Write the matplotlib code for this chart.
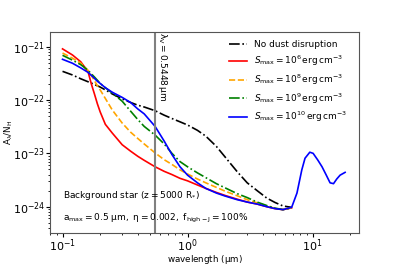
import matplotlib
matplotlib.use("Agg")
from matplotlib import pyplot as plt

# wavelength grid (micron) shared by the optical/near-IR part of the curves
lam = [0.1, 0.12, 0.14, 0.16, 0.17, 0.18, 0.19, 0.2, 0.22, 0.25, 0.3, 0.35, 0.4, 0.45,
       0.55, 0.65, 0.75, 0.87, 1.0, 1.2, 1.4, 1.7, 2.0, 2.5, 3.0, 3.6, 4.3, 5.0, 5.8, 6.8]

no_disrupt = [3.45e-22, 2.95e-22, 2.5e-22, 2.2e-22, 2.08e-22, 1.95e-22, 1.85e-22, 1.75e-22,
              1.55e-22, 1.3e-22, 1.05e-22, 9.0e-23, 8.0e-23, 7.4e-23, 6.3e-23, 5.2e-23,
              4.5e-23, 3.9e-23, 3.4e-23, 2.7e-23, 2.1e-23, 1.35e-23, 8.5e-24, 4.5e-24,
              2.8e-24, 2.0e-24, 1.45e-24, 1.2e-24, 1.03e-24, 9.7e-25]
s_1e6 = [9.1e-22, 7.0e-22, 5.2e-22, 3.4e-22, 2.0e-22, 1.3e-22, 8.5e-23, 6.0e-23, 3.5e-23,
         2.4e-23, 1.45e-23, 1.1e-23, 8.8e-24, 7.4e-24, 5.6e-24, 4.6e-24, 4.0e-24, 3.4e-24,
         3.05e-24, 2.55e-24, 2.2e-24, 1.85e-24, 1.62e-24, 1.38e-24, 1.22e-24, 1.12e-24,
         1.0e-24, 9.2e-25, 8.8e-25, 9.5e-25]
s_1e8 = [7.6e-22, 6.1e-22, 4.9e-22, 3.6e-22, 2.9e-22, 2.3e-22, 1.85e-22, 1.55e-22, 1.07e-22,
         6.5e-23, 3.7e-23, 2.5e-23, 1.9e-23, 1.5e-23, 1.02e-23, 7.6e-24, 6.2e-24, 4.9e-24,
         4.1e-24, 3.3e-24, 2.8e-24, 2.3e-24, 1.95e-24, 1.6e-24, 1.35e-24, 1.18e-24, 1.03e-24,
         9.3e-25, 8.8e-25, 9.5e-25]
s_1e9 = [6.9e-22, 5.6e-22, 4.6e-22, 3.6e-22, 3.1e-22, 2.7e-22, 2.35e-22, 2.05e-22, 1.7e-22,
         1.35e-22, 9.5e-23, 6.2e-23, 4.3e-23, 3.2e-23, 2.2e-23, 1.5e-23, 1.0e-23, 7.0e-24,
         5.6e-24, 4.3e-24, 3.5e-24, 2.7e-24, 2.25e-24, 1.75e-24, 1.48e-24, 1.22e-24, 1.05e-24,
         9.4e-25, 8.8e-25, 9.5e-25]

# the 10^10 curve also carries the silicate feature out to ~18 micron
lam_ir = [7.5, 8.2, 8.7, 9.5, 10.1, 11.0, 11.9, 12.8, 13.8, 14.7, 15.6, 16.6, 18.2]
s_1e10 = [5.8e-22, 4.9e-22, 4.0e-22, 3.3e-22, 2.9e-22, 2.55e-22, 2.25e-22, 2.05e-22, 1.7e-22,
          1.4e-22, 1.12e-22, 9.0e-23, 6.8e-23, 5.5e-23, 3.2e-23, 1.7e-23, 9.5e-24, 5.6e-24,
          3.9e-24, 2.8e-24, 2.2e-24, 1.8e-24, 1.58e-24, 1.35e-24, 1.22e-24, 1.12e-24, 1.0e-24,
          9.2e-25, 8.8e-25, 9.7e-25,
          1.8e-24, 4.9e-24, 8.1e-24, 1.05e-23, 1.0e-23, 7.5e-24, 5.6e-24, 4.0e-24, 2.8e-24,
          2.7e-24, 3.3e-24, 3.9e-24, 4.4e-24]

lam_v = 0.5448

fig = plt.figure(figsize=(3.99, 2.66), dpi=100)
ax = fig.add_axes([0.1253, 0.1252, 0.7744, 0.7556])

ax.plot(lam, no_disrupt, color="black", ls="-.", lw=1.2, label="No dust disruption")
ax.plot(lam, s_1e6, color="red", ls="-", lw=1.2,
        label=r"$S_{\rm max}=10^{6}\,\rm erg\,cm^{-3}$")
ax.plot(lam, s_1e8, color="orange", ls="--", lw=1.2,
        label=r"$S_{\rm max}=10^{8}\,\rm erg\,cm^{-3}$")
ax.plot(lam, s_1e9, color="green", ls="-.", lw=1.2,
        label=r"$S_{\rm max}=10^{9}\,\rm erg\,cm^{-3}$")
ax.plot(lam + lam_ir, s_1e10, color="blue", ls="-", lw=1.2,
        label=r"$S_{\rm max}=10^{10}\,\rm erg\,cm^{-3}$")

ax.axvline(lam_v, color="gray", lw=1.5)
ax.text(lam_v * 1.02, 1.85e-21, r"$\rm \lambda_V = 0.5448\,\mu m$", rotation=-90,
        ha="left", va="top", fontsize=6.5)

ax.set_xscale("log")
ax.set_yscale("log")
ax.set_xlim(0.0794, 23.5)
ax.set_ylim(3.25e-25, 1.91e-21)
ax.set_xlabel(r"wavelength ($\rm \mu m$)", fontsize=6.3)
ax.set_ylabel(r"$\rm A_{\lambda}/N_{H}$", fontsize=6.3)
ax.xaxis.set_label_coords(0.5, -0.1)
ax.yaxis.set_label_coords(-0.112, 0.5)
ax.tick_params(which="major", labelsize=8, length=3, pad=0.5)
ax.tick_params(which="minor", length=1.5)
for s in ax.spines.values():
    s.set_color("#555555")

ax.text(0.042, 0.184, r"$\rm Background\ star\ (z=5000\ R_{*})$", transform=ax.transAxes,
        fontsize=6.5, va="center")
ax.text(0.042, 0.073, r"$\rm a_{max}=0.5\ \mu m,\ \eta=0.002,\ f_{high-J}=100\%$",
        transform=ax.transAxes, fontsize=6.5, va="center")

ax.legend(loc="upper right", bbox_to_anchor=(0.987, 1.0), frameon=False, fontsize=6.5)

fig.savefig("out.png", dpi=100)
